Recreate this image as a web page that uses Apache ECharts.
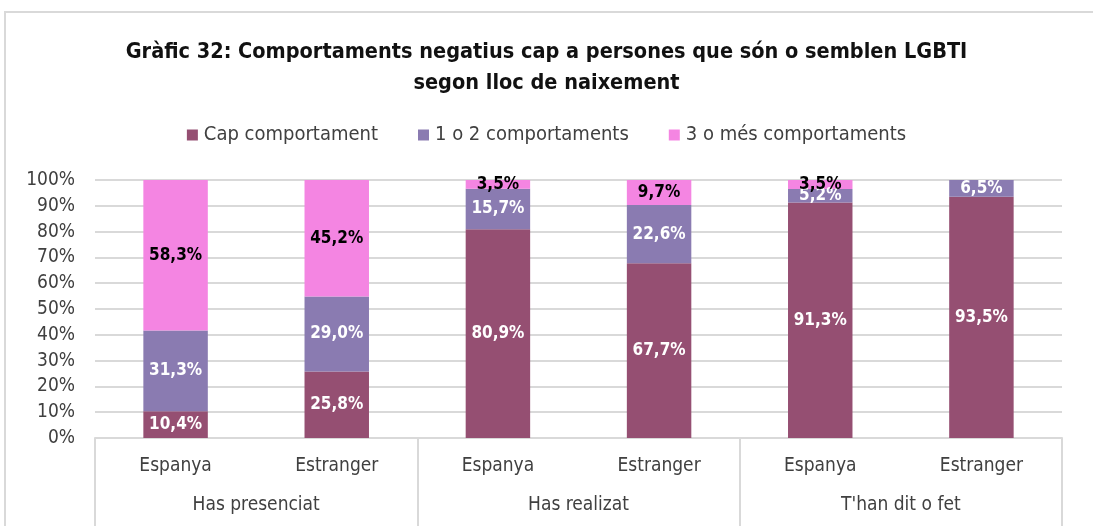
<!DOCTYPE html>
<html>
<head>
<meta charset="utf-8">
<script src="https://cdn.jsdelivr.net/npm/echarts@6/dist/echarts.min.js"></script>
<style>
  html, body { margin: 0; padding: 0; background: #fff; }
  #frame { position: absolute; left: 4px; top: 11px; width: 1200px; height: 600px; border: 2px solid #d9d9d9; }
  #main { position: absolute; left: 0; top: 0; width: 1093px; height: 526px; }
</style>
</head>
<body>
<div id="frame"></div>
<div id="main"></div>
<script>
// dades del gràfic
const places = ['Espanya', 'Estranger', 'Espanya', 'Estranger', 'Espanya', 'Estranger']
const groups = ['Has presenciat', 'Has realizat', "T'han dit o fet"]
const seriesNames = ['Cap comportament', '1 o 2 comportaments', '3 o més comportaments']
const capValues = [10.4, 25.8, 80.9, 67.7, 91.3, 93.5]
const unDosValues = [31.3, 29.0, 15.7, 22.6, 5.2, 6.5]
const tresValues = [58.3, 45.2, 3.5, 9.7, 3.5, null]
const colors = ['#954F72', '#8A7BB1', '#F485E2']
const labelColors = ['#ffffff', '#ffffff', '#000000']

const font = "'DejaVu Sans Condensed', 'Open Sans', sans-serif"
const fmt = (v) => v.toFixed(1).replace('.', ',') + '%'

const myChart = echarts.init(document.getElementById('main'))
const allData = [capValues, unDosValues, tresValues]

const option = {
  animation: false,
  textStyle: { fontFamily: font },
  title: {
    text: 'Gràfic 32: Comportaments negatius cap a persones que són o semblen LGBTI\nsegon lloc de naixement',
    left: 'center',
    top: 32,
    textStyle: { fontSize: 21.5, fontWeight: 'bold', color: '#111', lineHeight: 31, fontFamily: font }
  },
  legend: {
    top: 120,
    left: 'center',
    itemWidth: 11,
    itemHeight: 11,
    itemGap: 40,
    icon: 'rect',
    textStyle: { fontSize: 20, color: '#404040', fontFamily: font, padding: [0, 0, 0, 1] },
    data: seriesNames
  },
  grid: { left: 95, right: 31, top: 180, bottom: 88 },
  xAxis: [
    {
      type: 'category',
      data: places,
      axisLine: { lineStyle: { color: '#d9d9d9', width: 2 } },
      axisTick: { show: false },
      axisLabel: { fontSize: 19, color: '#404040', margin: 19, fontFamily: font }
    },
    {
      type: 'category',
      data: groups,
      position: 'bottom',
      axisLine: { show: false },
      axisTick: { show: true, length: 88, lineStyle: { color: '#d9d9d9', width: 2 } },
      axisLabel: { fontSize: 19, color: '#404040', margin: 58, fontFamily: font }
    }
  ],
  yAxis: {
    type: 'value',
    min: 0,
    max: 100,
    interval: 10,
    axisLine: { show: false },
    axisTick: { show: false },
    axisLabel: { formatter: '{value}%', fontSize: 19, color: '#404040', margin: 20, fontFamily: font },
    splitLine: { lineStyle: { color: '#d9d9d9', width: 2 } }
  },
  series: seriesNames.map((name, i) => ({
    name: name,
    type: 'bar',
    stack: 'total',
    xAxisIndex: 0,
    barWidth: '40%',
    itemStyle: { color: colors[i] },
    label: {
      show: true,
      position: 'inside',
      formatter: (p) => (p.value == null ? '' : fmt(p.value)),
      color: labelColors[i],
      fontWeight: 'bold',
      fontSize: 17,
      fontFamily: font
    },
    data: allData[i]
  }))
}

myChart.setOption(option)
</script>
</body>
</html>
